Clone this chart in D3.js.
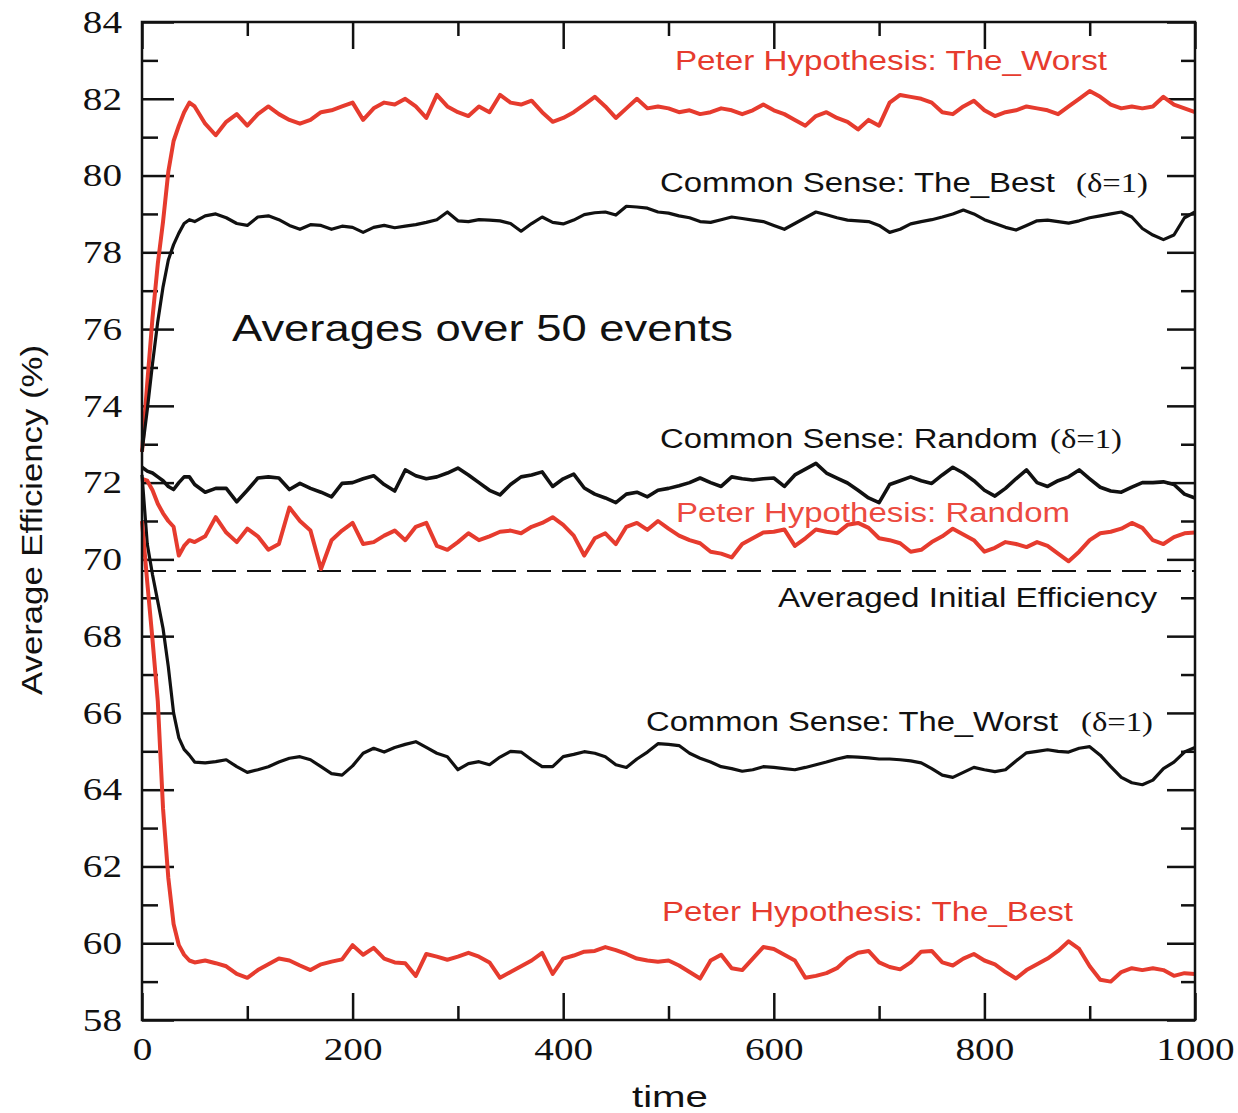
<!DOCTYPE html>
<html>
<head>
<meta charset="utf-8">
<script src="https://cdn.jsdelivr.net/npm/d3@7"></script>
<style>
  body { margin: 0; background: #fff; }
  svg { display: block; }
</style>
</head>
<body>
<svg id="chart"></svg>
<script>
// time steps (x values) shared by all series
const times = [
  0, 5, 10, 15, 20, 25, 30, 35, 40, 45, 50,
  60, 70, 80, 90, 100, 110, 120, 130, 140, 150,
  160, 170, 180, 190, 200, 210, 220, 230, 240, 250,
  260, 270, 280, 290, 300, 310, 320, 330, 340, 350,
  360, 370, 380, 390, 400, 410, 420, 430, 440, 450,
  460, 470, 480, 490, 500, 510, 520, 530, 540, 550,
  560, 570, 580, 590, 600, 610, 620, 630, 640, 650,
  660, 670, 680, 690, 700, 710, 720, 730, 740, 750,
  760, 770, 780, 790, 800, 810, 820, 830, 840, 850,
  860, 870, 880, 890, 900, 910, 920, 930, 940, 950,
  960, 970, 980, 990, 1000
];

const peterWorst = [
  72.8, 74.6, 76.3, 77.7, 78.8, 80.1, 80.9, 81.3, 81.65, 81.9, 81.8,
  81.35, 81.05, 81.4, 81.6, 81.3, 81.6, 81.8, 81.6, 81.45, 81.35,
  81.45, 81.65, 81.7, 81.8, 81.9, 81.45, 81.75, 81.9, 81.85, 82.0,
  81.8, 81.5, 82.1, 81.8, 81.65, 81.55, 81.8, 81.65, 82.1, 81.9,
  81.85, 81.95, 81.65, 81.4, 81.5, 81.65, 81.85, 82.05, 81.8, 81.5,
  81.75, 82.0, 81.75, 81.8, 81.75, 81.65, 81.7, 81.6, 81.65, 81.75,
  81.7, 81.6, 81.7, 81.85, 81.7, 81.6, 81.45, 81.3, 81.55, 81.65,
  81.5, 81.4, 81.2, 81.45, 81.3, 81.9, 82.1, 82.05, 82.0, 81.9,
  81.65, 81.6, 81.8, 81.95, 81.7, 81.55, 81.65, 81.7, 81.8, 81.75,
  81.7, 81.6, 81.8, 82.0, 82.2, 82.05, 81.85, 81.75, 81.8, 81.75,
  81.8, 82.05, 81.85, 81.75, 81.65
];

const csBest = [
  72.8, 73.9, 75.1, 76.2, 77.1, 77.8, 78.2, 78.5, 78.75, 78.85, 78.8,
  78.95, 79.0, 78.9, 78.75, 78.7, 78.92, 78.95, 78.85, 78.7, 78.6,
  78.72, 78.7, 78.6, 78.68, 78.65, 78.52, 78.65, 78.7, 78.64, 78.68,
  78.72, 78.78, 78.85, 79.05, 78.82, 78.8, 78.85, 78.84, 78.82, 78.75,
  78.55, 78.75, 78.92, 78.78, 78.74, 78.84, 78.98, 79.03, 79.05, 78.97,
  79.2, 79.18, 79.15, 79.05, 79.02, 78.95, 78.9, 78.8, 78.78, 78.85,
  78.92, 78.88, 78.84, 78.8, 78.7, 78.6, 78.75, 78.9, 79.05, 78.98,
  78.9, 78.84, 78.82, 78.8, 78.7, 78.52, 78.6, 78.74, 78.8, 78.85,
  78.92, 79.0, 79.1, 79.0, 78.85, 78.75, 78.65, 78.58, 78.7, 78.82,
  78.84, 78.8, 78.76, 78.82, 78.9, 78.95, 79.0, 79.05, 78.92, 78.62,
  78.45, 78.33, 78.45, 78.9, 79.05
];

const csRandom = [
  72.4, 72.3, 72.25, 72.15, 72.05, 71.9, 71.82, 72.0, 72.15, 72.15, 71.95,
  71.75, 71.85, 71.85, 71.5, 71.8, 72.12, 72.15, 72.12, 71.82, 71.98,
  71.85, 71.75, 71.63, 71.98, 72.0, 72.1, 72.18, 71.95, 71.78, 72.33,
  72.18, 72.1, 72.15, 72.25, 72.38, 72.2, 72.0, 71.8, 71.68, 71.95,
  72.15, 72.2, 72.28, 71.9, 72.1, 72.22, 71.86, 71.7, 71.6, 71.48,
  71.7, 71.75, 71.63, 71.8, 71.85, 71.92, 72.0, 72.12, 72.0, 71.9,
  72.15, 72.1, 72.07, 72.1, 72.12, 71.9, 72.2, 72.35, 72.5, 72.25,
  72.12, 71.99, 71.8, 71.6, 71.48, 71.95, 72.05, 72.15, 72.05, 71.98,
  72.2, 72.4, 72.25, 72.05, 71.8, 71.65, 71.85, 72.1, 72.33, 72.0,
  71.9, 72.05, 72.15, 72.33, 72.1, 71.88, 71.78, 71.75, 71.88, 72.0,
  72.0, 72.02, 71.95, 71.7, 71.6
];

const peterRandom = [
  72.1, 72.05, 71.8, 71.45, 71.2, 71.0, 70.85, 70.1, 70.35, 70.5, 70.45,
  70.6, 71.1, 70.7, 70.45, 70.8, 70.6, 70.25, 70.4, 71.35, 71.0,
  70.75, 69.75, 70.5, 70.75, 70.95, 70.4, 70.45, 70.62, 70.75, 70.5,
  70.85, 70.95, 70.35, 70.25, 70.45, 70.68, 70.5, 70.6, 70.72, 70.75,
  70.68, 70.85, 70.95, 71.1, 70.9, 70.62, 70.1, 70.55, 70.68, 70.4,
  70.85, 70.95, 70.77, 71.0, 70.8, 70.62, 70.5, 70.42, 70.2, 70.15,
  70.05, 70.4, 70.55, 70.7, 70.72, 70.78, 70.35, 70.55, 70.78, 70.72,
  70.68, 70.9, 70.95, 70.82, 70.55, 70.5, 70.42, 70.2, 70.25, 70.45,
  70.6, 70.8, 70.65, 70.5, 70.2, 70.3, 70.45, 70.4, 70.32, 70.45,
  70.35, 70.15, 69.95, 70.2, 70.5, 70.68, 70.72, 70.8, 70.95, 70.82,
  70.5, 70.4, 70.58, 70.68, 70.7
];

const csWorst = [
  72.2, 70.4, 69.6, 68.9, 68.2, 67.2, 66.0, 65.35, 65.05, 64.9, 64.72,
  64.7, 64.73, 64.78, 64.6, 64.45, 64.52, 64.6, 64.72, 64.82, 64.86,
  64.78, 64.6, 64.42, 64.38, 64.62, 64.95, 65.08, 64.98, 65.1, 65.18,
  65.25, 65.1, 64.95, 64.86, 64.52, 64.68, 64.73, 64.65, 64.85, 65.0,
  64.98, 64.78, 64.6, 64.6, 64.86, 64.92, 64.99, 64.95, 64.86, 64.65,
  64.58, 64.8, 64.98, 65.2, 65.18, 65.15, 64.95, 64.82, 64.72, 64.6,
  64.55, 64.48, 64.52, 64.6, 64.58, 64.55, 64.52, 64.58, 64.65, 64.72,
  64.8, 64.86, 64.85, 64.83, 64.8, 64.8, 64.78, 64.75, 64.7, 64.55,
  64.38, 64.32, 64.45, 64.58, 64.52, 64.47, 64.52, 64.75, 64.96, 65.0,
  65.04, 65.0, 64.98, 65.08, 65.12, 64.9, 64.6, 64.32, 64.18, 64.13,
  64.25, 64.55, 64.72, 64.98, 65.1
];

const peterBest = [
  71.0, 69.4, 67.9, 66.3, 63.5, 61.7, 60.5, 59.95, 59.7, 59.55, 59.5,
  59.55, 59.48, 59.4, 59.2, 59.1, 59.3, 59.45, 59.6, 59.55, 59.42,
  59.3, 59.45, 59.52, 59.58, 59.95, 59.7, 59.88, 59.6, 59.5, 59.48,
  59.15, 59.72, 59.65, 59.57, 59.65, 59.75, 59.65, 59.5, 59.1, 59.25,
  59.4, 59.55, 59.75, 59.2, 59.6, 59.68, 59.78, 59.8, 59.9, 59.82,
  59.72, 59.6, 59.55, 59.52, 59.55, 59.42, 59.25, 59.08, 59.55, 59.7,
  59.35, 59.3, 59.6, 59.9, 59.85, 59.7, 59.55, 59.1, 59.15, 59.22,
  59.35, 59.6, 59.75, 59.8, 59.5, 59.38, 59.32, 59.5, 59.78, 59.8,
  59.5, 59.42, 59.6, 59.72, 59.55, 59.45, 59.25, 59.08, 59.3, 59.45,
  59.6, 59.8, 60.05, 59.85, 59.4, 59.05, 59.0, 59.25, 59.35, 59.3,
  59.35, 59.3, 59.15, 59.22, 59.2
];

const initialEfficiency = 69.7;

const yMajor = [58, 60, 62, 64, 66, 68, 70, 72, 74, 76, 78, 80, 82, 84];
const yMinor = [59, 61, 63, 65, 67, 69, 71, 73, 75, 77, 79, 81, 83];
const xMajor = [0, 200, 400, 600, 800, 1000];
const xMinor = [100, 300, 500, 700, 900];

const RED = '#e63b2e';
const BLACK = '#111';
const SANS = '"Liberation Sans", Arial, sans-serif';
const SERIF = '"Liberation Serif", "Times New Roman", serif';

const margin = { top: 22, right: 43, bottom: 93, left: 142 };
const width = 1238 - margin.left - margin.right;
const height = 1113 - margin.top - margin.bottom;

const svg = d3.select('#chart')
  .attr('width', 1238)
  .attr('height', 1113);

const g = svg.append('g')
  .attr('transform', `translate(${margin.left},${margin.top})`);

const x = d3.scaleLinear().domain([0, 1000]).range([0, width]);
const y = d3.scaleLinear().domain([58, 84]).range([height, 0]);
const fmt = d3.format('d');

// ticks point inward on all four sides
const styleAxis = (sel, withLabels) => {
  sel.select('.domain').remove();
  sel.selectAll('.tick line').attr('stroke', BLACK).attr('stroke-width', 2.5);
  if (withLabels) {
    sel.selectAll('.tick text')
      .attr('font-family', SERIF)
      .attr('font-size', 32)
      .attr('fill', BLACK)
      .attr('textLength', d => fmt(d).length * 19.6)
      .attr('lengthAdjust', 'spacingAndGlyphs');
  } else {
    sel.selectAll('.tick text').remove();
  }
};

g.append('g')
  .call(d3.axisLeft(y).tickValues(yMajor).tickFormat(fmt).tickSize(-32).tickSizeOuter(0).tickPadding(20))
  .call(s => styleAxis(s, true));
g.append('g')
  .call(d3.axisLeft(y).tickValues(yMinor).tickSize(-16).tickSizeOuter(0))
  .call(s => styleAxis(s, false));
g.append('g')
  .attr('transform', `translate(${width},0)`)
  .call(d3.axisRight(y).tickValues(yMajor).tickSize(-28).tickSizeOuter(0))
  .call(s => styleAxis(s, false));
g.append('g')
  .attr('transform', `translate(${width},0)`)
  .call(d3.axisRight(y).tickValues(yMinor).tickSize(-14).tickSizeOuter(0))
  .call(s => styleAxis(s, false));

g.append('g')
  .attr('transform', `translate(0,${height})`)
  .call(d3.axisBottom(x).tickValues(xMajor).tickFormat(fmt).tickSize(-27).tickSizeOuter(0).tickPadding(17))
  .call(s => styleAxis(s, true));
g.append('g')
  .attr('transform', `translate(0,${height})`)
  .call(d3.axisBottom(x).tickValues(xMinor).tickSize(-14).tickSizeOuter(0))
  .call(s => styleAxis(s, false));
g.append('g')
  .call(d3.axisTop(x).tickValues(xMajor).tickSize(-27).tickSizeOuter(0))
  .call(s => styleAxis(s, false));
g.append('g')
  .call(d3.axisTop(x).tickValues(xMinor).tickSize(-14).tickSizeOuter(0))
  .call(s => styleAxis(s, false));

// averaged initial efficiency
g.append('line')
  .attr('x1', x(0))
  .attr('x2', x(1000))
  .attr('y1', y(initialEfficiency))
  .attr('y2', y(initialEfficiency))
  .attr('stroke', BLACK)
  .attr('stroke-width', 2)
  .attr('stroke-dasharray', '24 11');

const series = [
  { name: 'peterWorst', values: peterWorst, color: RED, w: 4 },
  { name: 'csBest', values: csBest, color: BLACK, w: 3.2 },
  { name: 'csRandom', values: csRandom, color: BLACK, w: 3.6 },
  { name: 'peterRandom', values: peterRandom, color: RED, w: 4 },
  { name: 'csWorst', values: csWorst, color: BLACK, w: 3.2 },
  { name: 'peterBest', values: peterBest, color: RED, w: 4 },
];

const line = d3.line()
  .x(d => x(d[0]))
  .y(d => y(d[1]));

g.selectAll('.series')
  .data(series)
  .enter()
  .append('path')
  .attr('class', 'series')
  .attr('fill', 'none')
  .attr('stroke', d => d.color)
  .attr('stroke-width', d => d.w)
  .attr('stroke-linejoin', 'round')
  .attr('d', d => line(times.map((t, i) => [t, d.values[i]])));

// frame
g.append('rect')
  .attr('width', width)
  .attr('height', height)
  .attr('fill', 'none')
  .attr('stroke', BLACK)
  .attr('stroke-width', 2.5);

// annotations (pixel positions in the svg)
const notes = [
  { parts: [['Peter Hypothesis: The_Worst', SANS, 675, 432]], y: 70, color: RED },
  { parts: [['Common Sense: The_Best', SANS, 660, 395], ['(δ=1)', SERIF, 1076, 72]], y: 192, color: BLACK },
  { parts: [['Averages over 50 events', SANS, 232, 501]], y: 341, color: BLACK, size: 36 },
  { parts: [['Common Sense: Random', SANS, 660, 378], ['(δ=1)', SERIF, 1050, 72]], y: 448, color: BLACK },
  { parts: [['Peter Hypothesis: Random', SANS, 676, 394]], y: 522, color: '#ec4a40' },
  { parts: [['Averaged Initial Efficiency', SANS, 778, 379]], y: 607, color: BLACK },
  { parts: [['Common Sense: The_Worst', SANS, 646, 412], ['(δ=1)', SERIF, 1081, 72]], y: 731, color: BLACK },
  { parts: [['Peter Hypothesis: The_Best', SANS, 662, 411]], y: 921, color: RED },
];

notes.forEach(n => {
  const t = svg.append('text')
    .attr('y', n.y)
    .attr('fill', n.color)
    .attr('font-size', n.size || 27);
  n.parts.forEach(([txt, font, px, len]) => {
    t.append('tspan')
      .attr('x', px)
      .attr('font-family', font)
      .attr('textLength', len)
      .attr('lengthAdjust', 'spacingAndGlyphs')
      .text(txt);
  });
});

// axis titles
svg.append('text')
  .attr('transform', 'translate(42,520) rotate(-90)')
  .attr('text-anchor', 'middle')
  .attr('font-family', SANS)
  .attr('font-size', 30)
  .attr('fill', BLACK)
  .attr('textLength', 350)
  .attr('lengthAdjust', 'spacingAndGlyphs')
  .text('Average Efficiency (%)');

svg.append('text')
  .attr('x', 670)
  .attr('y', 1107)
  .attr('text-anchor', 'middle')
  .attr('font-family', SANS)
  .attr('font-size', 30)
  .attr('fill', BLACK)
  .attr('textLength', 76)
  .attr('lengthAdjust', 'spacingAndGlyphs')
  .text('time');
</script>
</body>
</html>
